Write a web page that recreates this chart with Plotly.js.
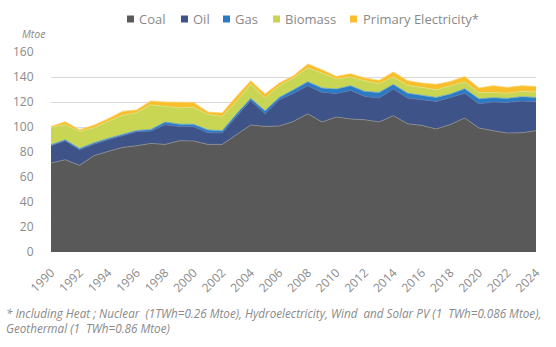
<!DOCTYPE html>
<html>
<head>
<meta charset="utf-8">
<script src="https://cdn.plot.ly/plotly-3.0.1.min.js"></script>
<style>html,body{margin:0;padding:0;background:#fff;}#chart{width:556px;height:347px;}</style>
</head>
<body>
<div id="chart"></div>
<script>
const years = [];
for (let y = 1990; y <= 2024; y++) years.push(y);
const coal    = [71.2,73.8,69.3,77.0,80.5,83.7,85.0,86.9,86.1,89.0,88.8,86.1,86.1,93.8,101.6,100.5,100.8,104.5,110.6,104.0,108.0,106.4,105.8,104.0,109.0,102.6,101.3,98.4,102.0,107.2,99.2,97.0,95.2,95.4,97.0];
const oil     = [13.8,15.2,12.5,9.3,9.3,9.6,11.2,9.9,15.7,11.5,11.4,9.4,9.1,14.7,19.7,10.1,21.0,22.5,22.4,23.7,18.9,22.9,18.7,19.2,21.4,20.6,20.5,22.1,21.7,19.8,19.4,23.0,24.5,25.4,23.2];
const gas     = [0.8,0.8,1.0,1.0,1.0,1.0,1.0,1.2,2.2,1.8,2.0,2.2,1.8,1.9,1.6,2.4,1.9,2.8,3.2,3.5,3.5,3.7,4.0,4.5,3.7,3.8,3.5,3.2,2.7,3.6,4.0,3.4,3.2,3.4,3.5];
const biomass = [13.9,12.0,13.7,12.0,13.7,15.0,14.2,19.8,12.5,13.1,13.5,12.3,11.5,10.1,11.5,10.2,9.3,9.4,11.0,12.0,8.0,7.0,8.5,6.9,5.9,6.3,6.4,6.1,6.6,5.4,5.1,4.3,4.1,4.3,4.3];
const primElec= [0.8,2.4,1.3,2.2,2.1,3.2,2.2,3.0,3.5,4.3,4.0,2.0,2.7,4.0,2.6,3.2,2.2,1.8,3.2,2.6,2.1,2.6,2.2,2.7,4.0,3.7,3.5,4.3,3.5,4.5,3.5,5.3,4.7,4.5,4.5];
const seriesNames = ["Coal","Oil","Gas","Biomass","Primary Electricity*"];
const seriesColors = ["#595959","#3E5489","#2B7BC4","#C8D653","#F9BE2B"];
const lineColors = ["#8C8C8C","#5A72A8","#5E9FD8","#D8E385","#FBD26A"];
const tickYears = [];
for (let y = 1990; y <= 2024; y += 2) tickYears.push(y);

const data = [coal, oil, gas, biomass, primElec].map((vals, i) => ({
  x: years, y: vals, name: seriesNames[i], type: 'scatter', mode: 'lines',
  stackgroup: 'one', fillcolor: seriesColors[i],
  line: {color: lineColors[i], width: 0.8}, hoverinfo: 'x+y+name', showlegend: false
}));

// manual legend (layout positions in pixels, converted to paper coords)
const W = 556, H = 347, mL = 51, mR = 20, mT = 52, mB = 95;
const pw = W - mL - mR, ph = H - mT - mB;
const px = v => (v - mL) / pw;
const py = v => (H - mB - v) / ph;
const legSquareX = [127, 181, 223, 273, 350];
const legTextX = [137, 191, 233, 283, 361];
const legY = 19;
const shapes = [], annotations = [];
seriesNames.forEach((n, i) => {
  shapes.push({type: 'rect', xref: 'paper', yref: 'paper',
    x0: px(legSquareX[i]), x1: px(legSquareX[i] + 7), y0: py(legY + 3.5), y1: py(legY - 3.5),
    fillcolor: seriesColors[i], line: {width: 0}});
  annotations.push({text: n, xref: 'paper', yref: 'paper', x: px(legTextX[i]), y: py(legY),
    xanchor: 'left', yanchor: 'middle', showarrow: false, font: {size: 13, color: '#8a8a8a'}});
});

const font = "'Open Sans', 'Noto Sans', sans-serif";
annotations.push(
  {text: '<i>Mtoe</i>', xref: 'paper', yref: 'paper', x: px(20), y: py(34),
   xanchor: 'left', yanchor: 'middle', showarrow: false, font: {size: 10.5, color: '#8a8a8a'}},
  {text: '<i>* Including Heat ; Nuclear  (1TWh=0.26 Mtoe), Hydroelectricity, Wind  and Solar PV (1  TWh=0.086 Mtoe),<br>Geothermal (1  TWh=0.86 Mtoe)</i>',
   xref: 'paper', yref: 'paper', x: px(4), y: py(303), xanchor: 'left', yanchor: 'top',
   align: 'left', showarrow: false, font: {size: 11.7, color: '#8a8a8a'}}
);

const layout = {
  width: W, height: H,
  margin: {l: mL, r: mR, t: mT, b: mB, autoexpand: false},
  paper_bgcolor: '#ffffff', plot_bgcolor: '#ffffff',
  font: {family: font, color: '#8a8a8a', size: 12},
  showlegend: false,
  xaxis: {range: [1990, 2024], tickvals: tickYears, ticktext: tickYears.map(String),
          tickangle: -45, showgrid: false, zeroline: false, showline: false,
          ticks: 'outside', ticklen: 8, tickcolor: 'rgba(0,0,0,0)',
          tickfont: {size: 12, color: '#8a8a8a'}, fixedrange: true, automargin: false},
  yaxis: {range: [0, 160], dtick: 20, tick0: 0, showgrid: true, gridcolor: '#d9d9d9', gridwidth: 1,
          zeroline: false, showline: false, ticks: 'outside', ticklen: 14, tickcolor: 'rgba(0,0,0,0)',
          tickfont: {size: 12, color: '#8a8a8a'}, fixedrange: true, automargin: false},
  shapes: shapes,
  annotations: annotations
};
Plotly.newPlot('chart', data, layout, {displayModeBar: false, staticPlot: true});
</script>
</body>
</html>
